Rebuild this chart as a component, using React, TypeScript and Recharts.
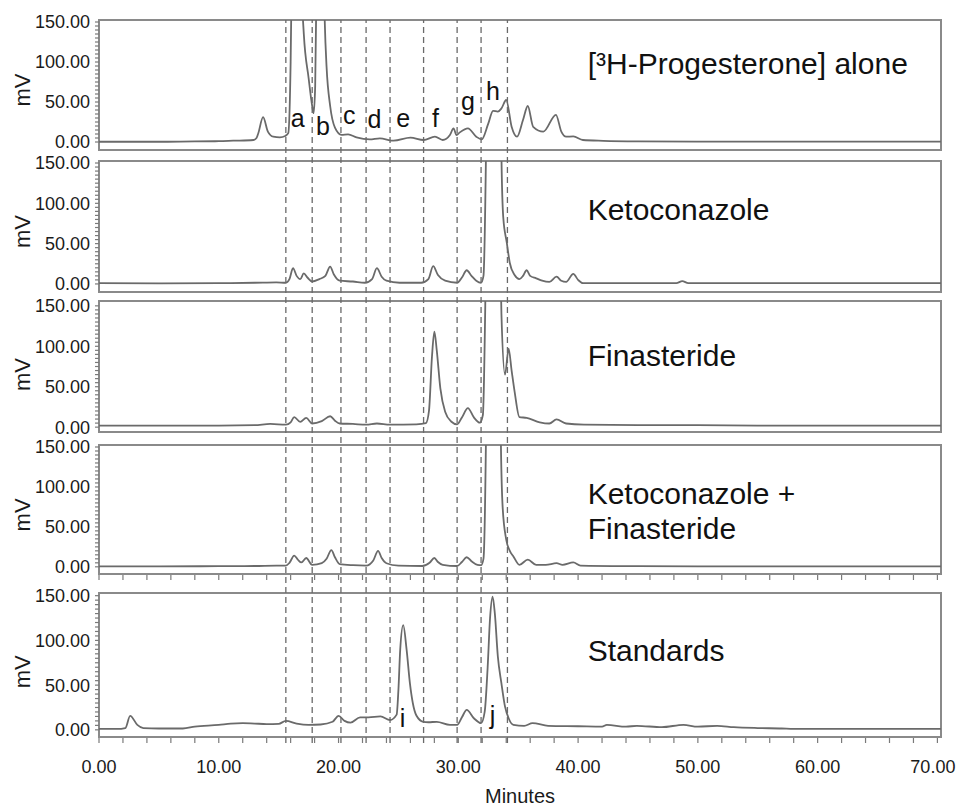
import React from 'react';
import { LineChart, Line, XAxis, YAxis, ReferenceArea, ReferenceLine, ReferenceDot } from 'recharts';

const FONT = '"Liberation Sans", Arial, Helvetica, sans-serif';
const X_MAX = 70.3;
const PAD = 14;

const minuteTicks = [0, 2, 4, 6, 8, 10, 12, 14, 16, 18, 20, 22, 24, 26, 28, 30, 32, 34, 36, 38, 40, 42, 44, 46, 48, 50, 52, 54, 56, 58, 60, 62, 64, 66, 68, 70];
const mvTicks = [0, 5, 10, 15, 20, 25, 30, 35, 40, 45, 50, 55, 60, 65, 70, 75, 80, 85, 90, 95, 100, 105, 110, 115, 120, 125, 130, 135, 140, 145, 150];
// retention times of the dashed guide lines (min)
const markerTimes = [15.6, 17.8, 20.2, 22.3, 24.3, 27.1, 29.9, 31.9, 34.1];

type Pt = [number, number]; // [minutes, mV]

const progesteroneTrace: Pt[] = [
  [0, 0.3], [5, 0.3], [8, 0.8], [10, 1], [11.2, 1.6], [12.9, 2.5], [13.15, 5], [13.3, 11], [13.7, 31], [14.1, 13],
  [14.55, 6.6], [15.1, 5.8], [15.55, 7.5], [15.8, 11], [16.0, 100], [16.1, 220], [16.5, 600], [16.9, 200], [17.1, 135],
  [17.5, 80], [17.8, 45], [17.92, 36], [18.05, 70], [18.2, 250], [18.5, 600], [18.75, 220], [18.85, 150], [19.0, 94],
  [19.3, 45], [19.7, 18], [20.25, 9], [20.8, 9.6], [21.5, 5.8], [22.6, 3.3], [23.45, 4.6], [24.6, 1.6], [26.0, 5.4],
  [27.1, 2.5], [28.05, 6.6], [28.7, 2.5], [29.3, 8.7], [29.6, 17], [29.85, 8.7], [30.1, 11.7], [30.8, 17], [31.5, 6.6],
  [31.95, 3.3], [32.5, 23], [32.9, 39], [33.3, 38], [33.6, 42], [34.0, 52.5], [34.45, 19], [34.9, 6.6], [35.4, 27.5],
  [35.8, 45], [36.25, 19], [37.1, 13], [38.15, 34], [38.6, 13], [39.0, 6.6], [39.6, 7], [40.4, 2.5], [42.1, 1.5],
  [45, 0.8], [50, 0.5], [55, 0.4], [60, 0.4], [65, 0.4], [70.3, 0.4],
];

const ketoconazoleTrace: Pt[] = [
  [0, 1], [5, 0.8], [10, 1], [13, 1.5], [14.8, 2], [15.6, 1.5], [15.9, 6], [16.2, 19.5], [16.5, 10], [16.8, 6],
  [17.1, 13], [17.4, 8], [17.8, 3], [18.4, 6], [18.9, 10], [19.3, 21.5], [19.6, 12], [20.1, 4], [21.2, 3], [22.2, 1.5],
  [22.8, 6], [23.2, 19.5], [23.6, 9], [24.0, 4], [25.1, 1.5], [26.9, 1.5], [27.5, 6], [27.9, 22], [28.3, 11], [28.9, 4],
  [29.9, 1.5], [30.3, 8], [30.7, 17], [31.1, 10], [31.5, 4], [31.9, 1.5], [32.1, 10], [32.3, 150], [32.5, 450],
  [33.0, 700], [33.45, 400], [33.6, 160], [33.75, 83], [34.05, 51], [34.3, 26], [34.7, 11], [35.1, 6], [35.4, 10],
  [35.7, 17], [36.0, 10], [36.5, 7], [37.0, 4], [37.6, 2.5], [38.2, 9], [38.6, 4], [39.0, 2.5], [39.6, 12.5], [40.0, 5],
  [40.4, 1], [45, 1], [48.2, 1], [48.7, 3.5], [49.2, 1], [55, 1], [60, 1], [70.3, 1],
];

const finasterideTrace: Pt[] = [
  [0, 2], [5, 2], [10, 2], [13, 2.5], [14.3, 4], [15.6, 3], [16.0, 6], [16.3, 12.5], [16.8, 6.5], [17.3, 11.5],
  [17.8, 4.5], [18.6, 7.5], [19.3, 13.5], [19.7, 8], [20.1, 4.5], [21.2, 4], [22.3, 3], [23.2, 4.5], [24.3, 3],
  [26.5, 3.5], [27.3, 5], [27.55, 20], [27.8, 87], [28.0, 118], [28.2, 95], [28.5, 48], [28.9, 19], [29.4, 7],
  [29.9, 3.5], [30.3, 12], [30.8, 23.5], [31.3, 12], [31.8, 5.5], [32.05, 15], [32.25, 150], [32.5, 500], [33.0, 700],
  [33.4, 300], [33.6, 140], [33.9, 65], [34.2, 97], [34.45, 70], [34.7, 44], [35.1, 12.5], [35.7, 11.5], [36.8, 6],
  [37.6, 4.5], [38.2, 9.5], [39.0, 4.5], [40.5, 3], [45, 2.5], [50, 2.5], [55, 2], [60, 2], [70.3, 2],
];

const comboTrace: Pt[] = [
  [0, 0.5], [5, 0.5], [10, 0.8], [13, 1], [14.8, 1.5], [15.6, 1.5], [15.9, 5], [16.3, 14], [16.6, 9], [16.9, 5.5],
  [17.3, 11], [17.8, 2.5], [18.6, 4.5], [19.0, 10], [19.4, 21], [19.7, 12], [20.1, 3.5], [21.2, 2], [22.3, 1.5],
  [22.9, 8], [23.3, 20], [23.6, 11], [24.0, 4.5], [25, 1.5], [27, 1], [27.6, 5], [28.0, 11], [28.3, 6], [28.7, 2.5],
  [29.9, 1], [30.3, 6], [30.7, 12], [31.1, 7], [31.6, 2.5], [31.9, 2], [32.1, 10], [32.3, 150], [32.5, 500], [33.0, 700],
  [33.45, 300], [33.55, 160], [33.7, 75], [34.0, 34], [34.3, 20], [34.6, 13], [35.1, 2.5], [35.8, 9], [36.5, 2.5],
  [37.3, 2.5], [38.2, 4.5], [38.7, 2.5], [39.6, 5.5], [40.2, 1.5], [45, 0.8], [50, 0.5], [60, 0.5], [70.3, 0.5],
];

const standardsTrace: Pt[] = [
  [0, 1], [1.5, 1], [2.2, 2], [2.6, 15.7], [3.2, 5.6], [3.7, 2], [5, 1.5], [7, 1.5], [8, 3.7], [10, 5.5], [11, 7],
  [12, 7.5], [13, 7], [14, 6.5], [15, 6.7], [15.6, 10], [16.5, 7], [17.5, 5.5], [18.5, 6], [19.5, 9], [20.0, 15.7],
  [20.5, 10], [21, 8], [21.8, 14], [22.5, 14], [23.5, 15], [24.3, 11], [24.85, 17], [25.0, 45], [25.15, 90],
  [25.4, 117], [25.68, 90], [25.96, 52], [26.2, 30], [26.5, 16], [27.07, 9], [27.5, 8.5], [28.2, 9], [29.3, 5.6],
  [29.9, 5.6], [30.3, 14], [30.7, 22.4], [31.3, 13], [31.9, 7.5], [32.2, 20], [32.45, 70], [32.65, 125], [32.86, 149],
  [33.05, 130], [33.3, 82], [33.6, 52], [33.9, 26], [34.2, 13], [34.6, 5.6], [35.5, 4.5], [36.2, 7.5], [37.5, 4.5],
  [40, 4], [42, 3.5], [42.4, 5.6], [44, 3.5], [44.9, 4.5], [47, 3], [48.8, 5.6], [50, 3.5], [51.6, 4.5], [53, 3],
  [55, 2], [57, 1.5], [58, 1], [70.3, 1],
];

// peak letters: [letter, minutes, mV at baseline of text]
const progesteroneLetters: [string, number, number][] = [
  ['a', 16.6, 18.7], ['b', 18.7, 8.7], ['c', 20.9, 22.5], ['d', 23.0, 17.5],
  ['e', 25.4, 18.7], ['f', 28.1, 18.7], ['g', 30.8, 40], ['h', 32.9, 52.5],
];
const standardsLetters: [string, number, number][] = [['i', 25.35, 3.7], ['j', 32.86, 7]];

type PanelCfg = {
  title: string[];
  titleAt: [number, number];
  trace: Pt[];
  letters: [string, number, number][];
  top: number;
  height: number;
  domain: [number, number];
  axis: 'none' | 'ticks' | 'full';
};

const panels: PanelCfg[] = [
  { title: ['[³H-Progesterone] alone'], titleAt: [40.8, 99], trace: progesteroneTrace, letters: progesteroneLetters, top: 20, height: 130, domain: [-10, 152.5], axis: 'none' },
  { title: ['Ketoconazole'], titleAt: [40.8, 93], trace: ketoconazoleTrace, letters: [], top: 161, height: 131, domain: [-10, 152.5], axis: 'none' },
  { title: ['Finasteride'], titleAt: [40.8, 89], trace: finasterideTrace, letters: [], top: 301, height: 131, domain: [-6, 156], axis: 'none' },
  { title: ['Ketoconazole +', 'Finasteride'], titleAt: [40.8, 70.6], trace: comboTrace, letters: [], top: 445, height: 129, domain: [-9, 152.5], axis: 'ticks' },
  { title: ['Standards'], titleAt: [40.8, 88.5], trace: standardsTrace, letters: standardsLetters, top: 593, height: 144, domain: [-8, 153], axis: 'full' },
];

const MvTick = (props: any) => {
  const { x, y, payload } = props;
  const major = payload.value % 50 === 0;
  return (
    <g>
      <line x1={x - 4} x2={x} y1={y} y2={y} stroke="#7a7a7a" strokeWidth={1.2} />
      {major && (
        <text x={x - 9} y={y} dy="0.36em" textAnchor="end" fontSize={18} fontFamily={FONT} fill="#1a1a1a">
          {payload.value.toFixed(2)}
        </text>
      )}
    </g>
  );
};

const minuteTick = (withLabel: boolean) => (props: any) => {
  const { x, y, payload } = props;
  const last = payload.value === 70;
  return (
    <g>
      <line x1={x} x2={x} y1={y + 1} y2={y + 6} stroke="#7a7a7a" strokeWidth={1.2} />
      {withLabel && payload.value % 10 === 0 && (
        <text x={last ? x + 18 : x} y={y + 36} textAnchor={last ? 'end' : 'middle'} fontSize={18} fontFamily={FONT} fill="#1a1a1a">
          {payload.value.toFixed(2)}
        </text>
      )}
    </g>
  );
};

// text placed at a data point; centred vertically when `centred`, else on its baseline
const textLabel = (lines: string[], size: number, anchor: 'start' | 'middle', centred: boolean, lineGap = 0) => (props: any) => {
  const { x, y } = props.viewBox;
  const shift = -((lines.length - 1) * lineGap) / 2;
  return (
    <text x={x} y={y + shift} textAnchor={anchor} fontSize={size} fontFamily={FONT} fill="#111">
      {lines.map((l, i) => (
        <tspan key={i} x={x} dy={i === 0 ? (centred ? '0.36em' : 0) : lineGap}>
          {l}
        </tspan>
      ))}
    </text>
  );
};

const mvLabel = (props: any) => {
  const { y } = props.viewBox;
  return (
    <text x={22} y={y} transform={`rotate(-90, 22, ${y})`} textAnchor="middle" dy="0.36em" fontSize={22} fontFamily={FONT} fill="#1a1a1a">
      mV
    </text>
  );
};

const minutesLabel = (props: any) => {
  const { x, y, width, height } = props.viewBox;
  return (
    <text x={x + width / 2} y={y + height - 3} textAnchor="middle" fontSize={20} fontFamily={FONT} fill="#1a1a1a">
      Minutes
    </text>
  );
};

const Panel = ({ cfg }: { cfg: PanelCfg }) => {
  const axisHeight = cfg.axis === 'full' ? 69 : cfg.axis === 'ticks' ? 8 : 0;
  const padBottom = cfg.axis === 'full' ? 0 : PAD;
  const rows = cfg.trace.map(([t, v]) => ({ t, v }));
  return (
    <div style={{ position: 'absolute', left: 0, top: cfg.top - PAD }}>
      <LineChart
        width={957}
        height={cfg.height + axisHeight + PAD + padBottom}
        data={rows}
        margin={{ top: PAD, right: 16, bottom: padBottom, left: 0 }}
      >
        <XAxis
          dataKey="t"
          type="number"
          domain={[0, X_MAX]}
          ticks={minuteTicks}
          interval={0}
          hide={cfg.axis === 'none'}
          height={axisHeight}
          axisLine={false}
          tickLine={false}
          tickSize={0}
          tickMargin={0}
          tick={minuteTick(cfg.axis === 'full')}
          label={cfg.axis === 'full' ? minutesLabel : undefined}
        />
        <YAxis
          type="number"
          domain={cfg.domain}
          allowDataOverflow
          ticks={mvTicks}
          interval={0}
          width={99}
          axisLine={false}
          tickLine={false}
          tickSize={0}
          tickMargin={0}
          tick={<MvTick />}
        />
        <ReferenceArea x1={0} x2={X_MAX} y1={cfg.domain[0]} y2={cfg.domain[1]} fill="#ffffff" fillOpacity={0} stroke="#8a8a8a" strokeWidth={2} />
        <Line dataKey="v" type="monotone" stroke="#6a6a6a" strokeWidth={1.8} dot={false} isAnimationActive={false} />
        <ReferenceDot x={0} y={65} r={0} fill="none" stroke="none" label={mvLabel} />
        <ReferenceDot x={cfg.titleAt[0]} y={cfg.titleAt[1]} r={0} fill="none" stroke="none" label={textLabel(cfg.title, 30, 'start', true, 35)} />
        {cfg.letters.map(([s, t, v]) => (
          <ReferenceDot key={s} x={t} y={v} r={0} fill="none" stroke="none" label={textLabel([s], 25, 'middle', false)} />
        ))}
      </LineChart>
    </div>
  );
};

const App = () => {
  const guideRows = [{ t: 0, v: 0 }, { t: X_MAX, v: 1 }];
  return (
    <div style={{ position: 'absolute', left: 0, top: 0, width: 957, height: 806, background: '#fff', overflow: 'hidden', fontFamily: FONT }}>
      {panels.map((p, i) => (
        <Panel key={i} cfg={p} />
      ))}
      <div style={{ position: 'absolute', left: 0, top: 20, pointerEvents: 'none' }}>
        <LineChart width={957} height={723} data={guideRows} margin={{ top: 0, right: 16, bottom: 0, left: 99 }}>
          <XAxis dataKey="t" type="number" domain={[0, X_MAX]} hide />
          <YAxis type="number" domain={[0, 1]} hide />
          <Line dataKey="v" stroke="none" dot={false} isAnimationActive={false} />
          {markerTimes.map((t) => (
            <ReferenceLine key={t} x={t} stroke="#6a6a6a" strokeWidth={1.3} strokeDasharray="6 4" />
          ))}
        </LineChart>
      </div>
    </div>
  );
};

export default App;
